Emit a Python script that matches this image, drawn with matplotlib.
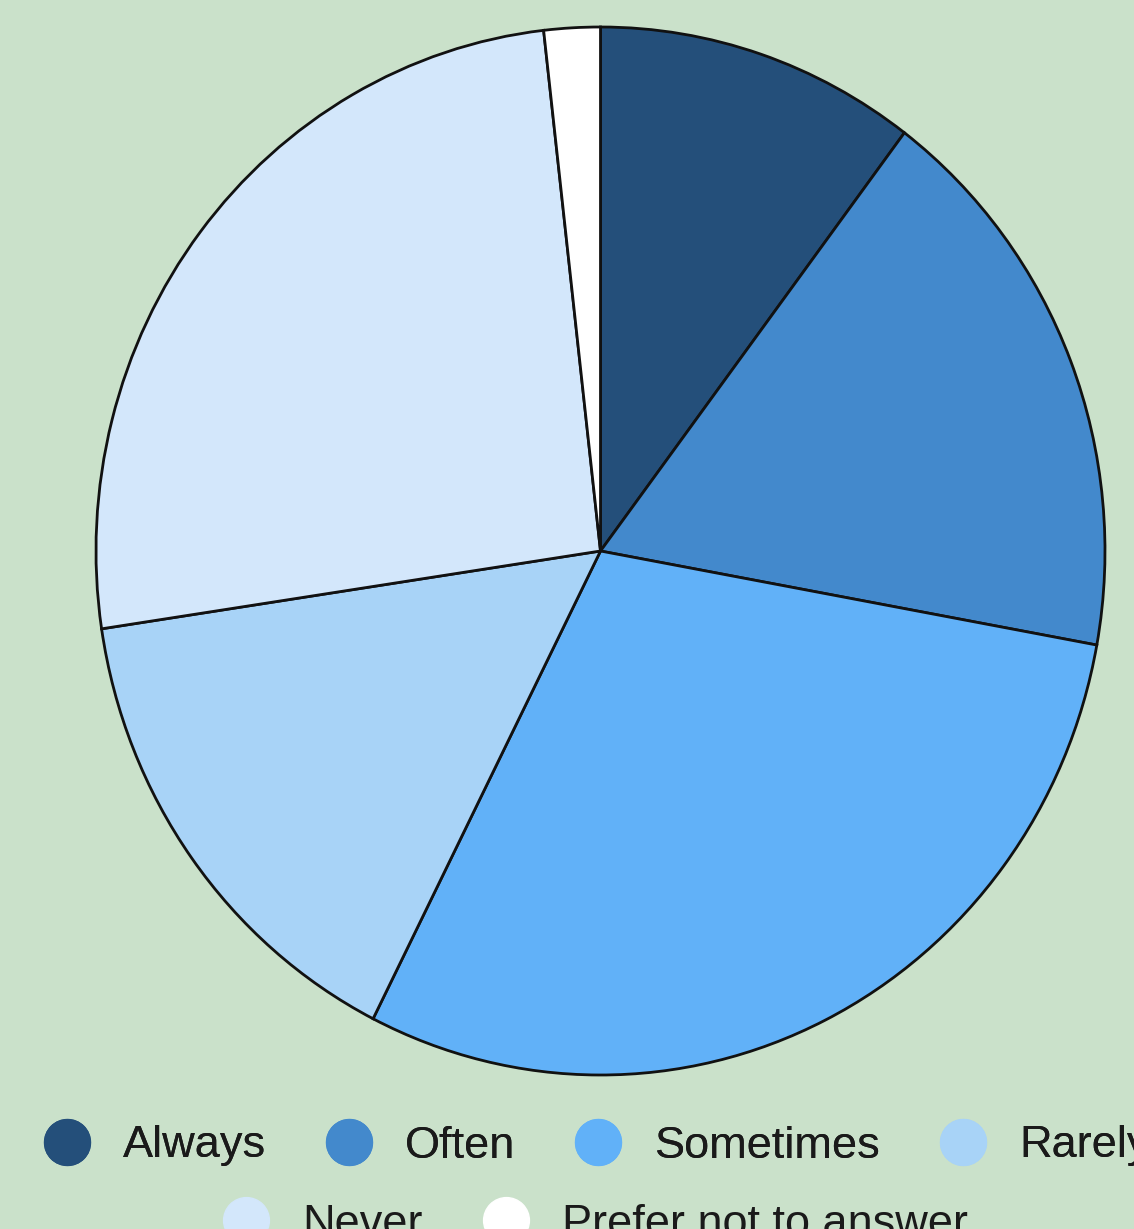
import matplotlib
matplotlib.use("Agg")
import matplotlib.pyplot as plt
from matplotlib.lines import Line2D

plt.rcParams['font.family'] = ['Liberation Sans', 'DejaVu Sans']

# Data
labels = ["Always", "Often", "Sometimes", "Rarely", "Never", "Prefer not to answer"]
values = [10.3, 17.6, 29.6, 15.2, 25.6, 1.8]
colors = ["#244f7a", "#4389cc", "#61b1f8", "#a8d3f7", "#d3e7fb", "#ffffff"]
bg = "#cae1ca"

W, H = 1134, 1229
fig = plt.figure(figsize=(W / 100, H / 100), dpi=100, facecolor=bg)

# Pie (slightly taller than wide, like the reference)
ax = fig.add_axes([96 / W, (H - 1075) / H, 1009 / W, 1048 / H])
ax.pie(values, colors=colors, startangle=90, counterclock=False,
       wedgeprops=dict(edgecolor="#111111", linewidth=2.0))
ax.set_aspect('auto')
ax.set_xlim(-1.0, 1.0)
ax.set_ylim(-1.0, 1.0)
ax.set_facecolor(bg)

# Legend: two centred rows
def make_handles(cols):
    return [Line2D([0], [0], marker='o', linestyle='none', markersize=33,
                   markerfacecolor=c, markeredgecolor=c) for c in cols]

leg_kw = dict(loc='center', frameon=False, fontsize=32.5, handlelength=1.0,
              handletextpad=0.75, columnspacing=1.33, borderpad=0,
              labelcolor="#1a1a1a")

row1 = fig.legend(make_handles(colors[:4]), labels[:4], ncol=4,
                  bbox_to_anchor=(597 / W, (H - 1146) / H), **leg_kw)
fig.add_artist(row1)
fig.legend(make_handles(colors[4:]), labels[4:], ncol=2,
           bbox_to_anchor=(596 / W, (H - 1224) / H), **leg_kw)

fig.savefig("out.png", dpi=100, facecolor=bg)
